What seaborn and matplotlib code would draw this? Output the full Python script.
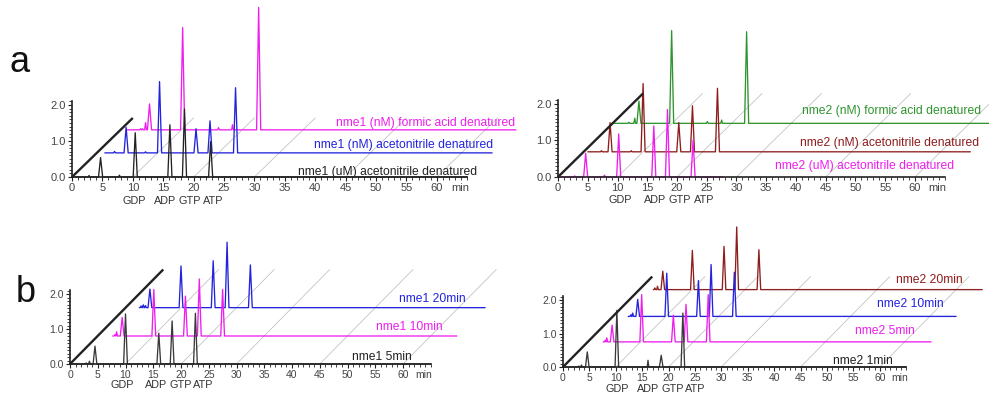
import numpy as np
import pandas as pd
import matplotlib
matplotlib.use("Agg")
import matplotlib.pyplot as plt
import matplotlib.transforms as mtrans
import seaborn as sns

sns.set_theme(style="white")
plt.rcParams["font.family"] = ["Liberation Sans", "DejaVu Sans"]

# ---------------- data (retention time in min, absorbance) ----------------
# panel a, left : nme1
A1_LABELS = ["nme1 (uM) acetonitrile denatured", "nme1 (nM) acetonitrile denatured",
             "nme1 (nM) formic acid denatured"]
A1_RT = [[2.8, 4.7, 7.8, 10.4, 16.1, 18.5, 22.8],
         [2.9, 4.8, 8.0, 10.3, 16.3, 18.6, 22.8],
         [3.3, 3.6, 4.1, 4.75, 10.2, 16.1, 18.4, 22.7]]
A1_H = [[0.04, 0.54, 0.05, 1.23, 1.45, 1.89, 0.98],
        [0.04, 0.71, 0.03, 1.98, 0.67, 0.89, 1.81],
        [0.03, 0.03, 0.20, 0.72, 2.84, 0.06, 0.14, 3.40]]
A1_DX = [0.0, 4.1, 8.0]
A1_DY = [0.0, 0.67, 1.31]
A1_START = [0.0, 1.3, 1.0]
A1_END = [65.0, 65.0, 65.0]

# panel a, right : nme2
A2_LABELS = ["nme2 (uM) acetonitrile denatured", "nme2 (nM) acetonitrile denatured",
             "nme2 (nM) formic acid denatured"]
A2_RT = [[2.8, 4.65, 7.8, 10.2, 16.1, 18.4, 22.7],
         [3.0, 4.45, 8.0, 10.0, 16.0, 18.3, 22.5],
         [2.7, 3.7, 4.4, 9.9, 15.9, 18.3, 22.5]]
A2_H = [[0.03, 0.65, 0.05, 1.18, 1.40, 1.85, 1.01],
        [0.03, 0.80, 0.03, 1.87, 0.80, 1.26, 1.74],
        [0.03, 0.14, 0.61, 2.54, 0.05, 0.09, 2.51]]
A2_DX = [0.0, 4.3, 9.2]
A2_DY = [0.0, 0.69, 1.47]
A2_START = [0.0, 0.7, 0.0]
A2_END = [27.7, 65.0, 70.0]

# panel b, left : nme1 time course
B1_LABELS = ["nme1 5min", "nme1 10min", "nme1 20min"]
B1_RT = [[2.9, 3.5, 4.5, 10.0, 16.0, 18.4, 22.6],
         [3.1, 3.4, 4.4, 10.1, 15.8, 18.3, 22.5],
         [2.8, 3.2, 3.6, 4.4, 10.0, 15.8, 18.3, 22.5]]
B1_H = [[0.03, 0.08, 0.51, 1.43, 0.88, 1.23, 1.45],
        [0.04, 0.12, 0.53, 1.33, 1.14, 1.63, 1.33],
        [0.05, 0.08, 0.06, 0.53, 1.19, 1.34, 1.87, 1.22]]
B1_DX = [0.0, 5.0, 10.0]
B1_DY = [0.0, 0.80, 1.61]
B1_START = [0.0, 2.7, 2.5]
B1_END = [65.0, 64.7, 64.8]

# panel b, right : nme2 time course
B2_LABELS = ["nme2 1min", "nme2 5min", "nme2 10min", "nme2 20min"]
B2_RT = [[3.0, 3.5, 4.6, 10.2, 16.1, 18.6, 22.7],
         [3.3, 3.6, 4.6, 10.2, 16.2, 18.6, 22.8],
         [3.4, 3.75, 4.7, 10.2, 16.2, 18.6, 23.0],
         [3.0, 3.5, 4.5, 10.1, 16.1, 18.5, 22.7]]
B2_H = [[0.03, 0.06, 0.45, 1.69, 0.20, 0.35, 1.61],
        [0.05, 0.12, 0.50, 1.41, 0.80, 1.12, 1.41],
        [0.05, 0.10, 0.51, 1.29, 1.07, 1.55, 1.32],
        [0.05, 0.10, 0.55, 1.17, 1.29, 1.87, 1.19]]
B2_DX = [0.0, 4.7, 9.45, 14.4]
B2_DY = [0.0, 0.75, 1.51, 2.31]
B2_START = [0.0, 2.9, 2.9, 2.7]
B2_END = [65.0, 65.0, 65.0, 65.0]

NUC_LABELS = ["GDP", "ADP", "GTP", "ATP"]
X_TICKS = list(range(0, 61, 5))
Y_TICKS = [0.0, 1.0, 2.0]

# ---------------- styles ----------------
BLACK = "#222222"
DGRAY = "#3a3a3a"
MAGENTA = "#ee1eee"
BLUE = "#2323dd"
GREEN = "#2f952f"
BROWN = "#8e1d1d"

W, H = 989, 398
fig = plt.figure(figsize=(W / 100, H / 100), dpi=100)


def make_axes(ox, oy, sx, sy, xr, yr):
    l = ox + xr[0] * sx
    r = ox + xr[1] * sx
    t = oy - yr[1] * sy
    b = oy - yr[0] * sy
    ax = fig.add_axes([l / W, 1 - b / H, (r - l) / W, (b - t) / H])
    ax.set_xlim(*xr)
    ax.set_ylim(*yr)
    ax.set_facecolor("none")
    return ax


def trace_frame(rt, h, t0, t1):
    xs, ys = [t0], [0.0]
    for r, v in sorted(zip(rt, h)):
        w = 0.34 if v >= 0.3 else 0.15
        xs += [r - w, r, r + w]
        ys += [0.0, v, 0.0]
    xs.append(t1)
    ys.append(0.0)
    return pd.DataFrame({"t": xs, "y": ys})


def draw_panel(ax, rts, hs, dxs, dys, starts, ends, colors, diag, grid_t, nuc_x, nuc_off, tsize):
    D_x, D_y = diag
    # depth grid lines
    for t in grid_t:
        ax.plot([t, t + D_x], [0, D_y], color="#c4c4c4", lw=0.6, zorder=1, clip_on=False)
    n = len(rts)
    for i in range(n):
        df = trace_frame(rts[i], hs[i], starts[i], ends[i])
        df["x"] = df["t"] + dxs[i]
        df["yy"] = df["y"] + dys[i]
        sns.lineplot(data=df, x="x", y="yy", ax=ax, color=colors[i], lw=0.95,
                     estimator=None, sort=False, legend=False, zorder=10 - i)
        for ln in ax.lines[-1:]:
            ln.set_clip_on(False)
    ax.plot([0, D_x], [0, D_y], color=BLACK, lw=1.7, zorder=12, clip_on=False,
            solid_capstyle="butt")
    ax.set_xlabel("")
    ax.set_ylabel("")
    for s in ["top", "right"]:
        ax.spines[s].set_visible(False)
    for s in ["bottom", "left"]:
        ax.spines[s].set_position(("data", 0))
        ax.spines[s].set_color(BLACK)
        ax.spines[s].set_linewidth(1.2)
        ax.spines[s].set_zorder(11)
    ax.spines["bottom"].set_bounds(0, 65)
    ax.spines["left"].set_bounds(0, 2.12)
    ax.set_xticks(X_TICKS)
    ax.set_xticklabels([str(v) for v in X_TICKS])
    ax.set_xticks(np.arange(0, 66, 1), minor=True)
    ax.set_yticks(Y_TICKS)
    ax.set_yticklabels(["%.1f" % v for v in Y_TICKS])
    ax.set_yticks(np.arange(0, 2.11, 0.1), minor=True)
    ax.tick_params(which="both", bottom=True, left=True, direction="out",
                   color=BLACK, labelsize=tsize, labelcolor="#444444", pad=1.3)
    ax.tick_params(which="major", length=3.2, width=0.8)
    ax.tick_params(which="minor", length=2.0, width=0.6)
    ax.grid(False)
    tr = mtrans.offset_copy(ax.transData, fig=fig, x=0, y=-4.6, units="points")
    ax.text(63.8, 0, "min", transform=tr, ha="center", va="top", fontsize=tsize, color="#444444")
    tr2 = mtrans.offset_copy(ax.transData, fig=fig, x=0, y=-nuc_off * 0.72, units="points")
    for lab, xv in zip(NUC_LABELS, nuc_x):
        ax.text(xv, 0, lab, transform=tr2, ha="center", va="center", fontsize=7.8, color="#333333")


GRID_T = [10, 20, 30, 45, 60]

# a left
ax1 = make_axes(72, 177, 6.08, 36.0, (-1, 74), (-0.1, 4.9))
draw_panel(ax1, A1_RT, A1_H, A1_DX, A1_DY, A1_START, A1_END, [BLACK, BLUE, MAGENTA],
           (10.0, 1.64), GRID_T, [10.3, 15.3, 19.3, 23.3], 23.5, 8)
# a right
ax2 = make_axes(558, 177, 5.95, 36.5, (-1, 72.4), (-0.1, 4.8))
draw_panel(ax2, A2_RT, A2_H, A2_DX, A2_DY, A2_START, A2_END, [MAGENTA, BROWN, GREEN],
           (14.3, 2.29), GRID_T, [10.4, 16.3, 20.4, 24.6], 23.5, 8)
# b left
ax3 = make_axes(70, 364, 5.55, 35.0, (-1, 77), (-0.1, 4.5))
draw_panel(ax3, B1_RT, B1_H, B1_DX, B1_DY, B1_START, B1_END, [DGRAY, MAGENTA, BLUE],
           (16.8, 2.7), GRID_T, [9.5, 15.6, 19.9, 24.0], 21.5, 7.5)
# b right
ax4 = make_axes(563, 367, 5.28, 33.5, (-1, 80.6), (-0.1, 4.6))
draw_panel(ax4, B2_RT, B2_H, B2_DX, B2_DY, B2_START, B2_END, [DGRAY, MAGENTA, BLUE, BROWN],
           (16.9, 2.7), GRID_T, [10.3, 16.2, 20.7, 25.0], 22.5, 7.5)


def ftext(xp, yp, s, color, **kw):
    fig.text(xp / W, 1 - yp / H, s, color=color, ha="right", va="center", fontsize=8.7, **kw)


ftext(477, 172, A1_LABELS[0], BLACK)
ftext(493, 145, A1_LABELS[1], BLUE)
ftext(515, 123, A1_LABELS[2], MAGENTA)
ftext(954, 166, A2_LABELS[0], MAGENTA)
ftext(979, 143, A2_LABELS[1], BROWN)
ftext(981, 111, A2_LABELS[2], GREEN)
ftext(412, 357, B1_LABELS[0], BLACK)
ftext(443, 327, B1_LABELS[1], MAGENTA)
ftext(466, 299, B1_LABELS[2], BLUE)
ftext(893, 361, B2_LABELS[0], BLACK)
ftext(915, 331, B2_LABELS[1], MAGENTA)
ftext(944, 304, B2_LABELS[2], BLUE)
ftext(963, 280, B2_LABELS[3], BROWN)

fig.text(19.5 / W, 1 - 62 / H, "a", fontsize=26, ha="center", va="center", color="#111111")
fig.text(26 / W, 1 - 292 / H, "b", fontsize=26, ha="center", va="center", color="#111111")

fig.savefig("out.png", dpi=100)
